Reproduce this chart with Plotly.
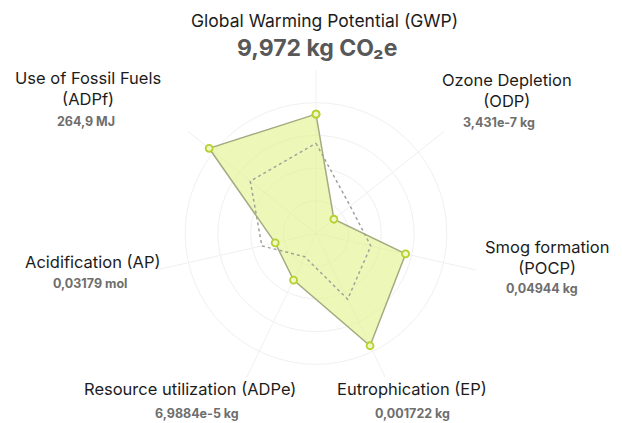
import plotly.graph_objects as go

# ---- data ----
categories = ["GWP", "ODP", "POCP", "EP", "ADPe", "AP", "ADPf"]
category_names = [
    "Global Warming Potential (GWP)",
    "Ozone Depletion<br>(ODP)",
    "Smog formation<br>(POCP)",
    "Eutrophication (EP)",
    "Resource utilization (ADPe)",
    "Acidification (AP)",
    "Use of Fossil Fuels<br>(ADPf)",
]
value_labels = [
    "9,972 kg CO₂e",
    "3,431e-7 kg",
    "0,04944 kg",
    "0,001722 kg",
    "6,9884e-5 kg",
    "0,03179 mol",
    "264,9 MJ",
]
product_scores = [3.65, 0.70, 2.81, 3.81, 1.58, 1.28, 4.18]
baseline_scores = [2.76, 1.34, 1.72, 2.23, 0.79, 1.70, 2.57]

W, H = 622, 423

fig = go.Figure()

theta_closed = categories + [categories[0]]

fig.add_trace(go.Scatterpolar(
    r=product_scores + [product_scores[0]],
    theta=theta_closed,
    mode="lines",
    fill="toself",
    fillcolor="rgba(226,243,140,0.62)",
    line=dict(color="rgba(0,0,0,0)", width=0),
    hoverinfo="skip",
    showlegend=False,
))

fig.add_trace(go.Scatterpolar(
    r=baseline_scores + [baseline_scores[0]],
    theta=theta_closed,
    mode="lines",
    line=dict(color="#a0a39a", width=1.5, dash="3px,3px"),
    hoverinfo="skip",
    showlegend=False,
))

fig.add_trace(go.Scatterpolar(
    r=product_scores + [product_scores[0]],
    theta=theta_closed,
    mode="lines+markers",
    line=dict(color="#a5ab80", width=1.5),
    marker=dict(size=7, color="#f0f7c8", line=dict(color="#b7d02c", width=1.8)),
    showlegend=False,
))

# polar placement: centre (316, 233.5) px, radius 163.5 px
cx, cy, R = 316, 233.5, 163.5
fig.update_layout(
    width=W, height=H,
    margin=dict(l=0, r=0, t=0, b=0),
    paper_bgcolor="white",
    plot_bgcolor="white",
    font=dict(family="Inter, Open Sans, sans-serif"),
    polar=dict(
        domain=dict(x=[(cx - R) / W, (cx + R) / W],
                    y=[(H - cy - R) / H, (H - cy + R) / H]),
        bgcolor="white",
        radialaxis=dict(range=[0, 5], tickvals=[1, 2, 3, 4, 5],
                        showticklabels=False, ticks="", showline=False,
                        gridcolor="#f0f0f0", gridwidth=1.3),
        angularaxis=dict(direction="clockwise", rotation=90,
                         showticklabels=False, ticks="",
                         showline=False,
                         gridcolor="#f0f0f0", gridwidth=1.3),
    ),
)

# label placement (pixel centres)
name_pos = [(324, 21), (507, 91), (547, 257), (412, 389), (190, 389), (93, 262), (88, 89)]
value_pos = [(317, 48), (499, 123), (542, 288), (412, 413), (197, 413), (90, 283), (86, 122)]

for i in range(len(categories)):
    nx, ny = name_pos[i]
    fig.add_annotation(
        x=nx / W, y=1 - ny / H, xref="paper", yref="paper",
        text=category_names[i], showarrow=False,
        xanchor="center", yanchor="middle", align="center",
        font=dict(size=17.5 if i == 0 else 16.5, color="#1c1c1c"),
        bgcolor="white" if i in (3, 4) else None,
    )
    vx, vy = value_pos[i]
    fig.add_annotation(
        x=vx / W, y=1 - vy / H, xref="paper", yref="paper",
        text="<b>" + value_labels[i] + "</b>", showarrow=False,
        xanchor="center", yanchor="middle",
        font=dict(size=23 if i == 0 else 12.5, color="#585858" if i == 0 else "#6e6e6e"),
    )

fig.write_html("out.html")
